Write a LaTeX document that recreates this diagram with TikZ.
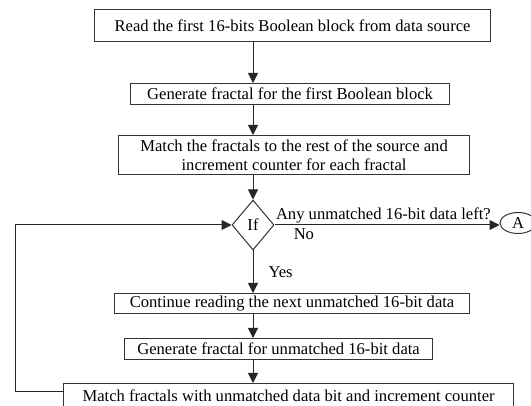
\documentclass[tikz,border=0pt]{standalone}
\usepackage{fontspec}
\setmainfont{Liberation Serif}
\usetikzlibrary{shapes.geometric,arrows.meta}
\begin{document}
\begin{tikzpicture}[x=1pt,y=-1pt,
  font=\fontsize{16.6}{19.5}\selectfont,
  stepbox/.style={draw=black!80,line width=1.1pt,inner sep=0pt,align=center,anchor=north west},
  arr/.style={draw=black!85,line width=1pt,-{Triangle[length=10pt,width=10pt]}},
  ln/.style={draw=black!85,line width=1pt}]
\useasboundingbox (0,0) rectangle (531,406);
\fill[white] (0,0) rectangle (531,406);
\node[stepbox,minimum width=396pt,minimum height=32pt] (b1) at (94,9) {Read the first 16-bits Boolean block from data source};
\node[stepbox,minimum width=319pt,minimum height=21pt] (b2) at (130,83) {Generate fractal for the first Boolean block};
\node[stepbox,minimum width=351pt,minimum height=39pt] (b3) at (118,135) {Match the fractals to the rest of the source and\\increment counter for each fractal};
\node[draw=black!80,line width=1pt,diamond,minimum width=42pt,minimum height=50pt,inner sep=0pt] (d) at (253,225) {If};
\node[draw=black!80,line width=1pt,ellipse,minimum width=36pt,minimum height=21pt,inner sep=0pt] (A) at (518,223) {A};
\node[stepbox,minimum width=355pt,minimum height=20pt] (b4) at (114,293) {Continue reading the next unmatched 16-bit data};
\node[stepbox,minimum width=308pt,minimum height=21pt] (b5) at (124,338) {Generate fractal for unmatched 16-bit data};
\node[stepbox,minimum width=450pt,minimum height=25pt,anchor=north west] (b6) at (63,383) {Match fractals with unmatched data bit and increment counter};
\coordinate (c1) at (15,392);
\coordinate (c2) at (15,225);
\draw[arr] (b1.south -| d.center) -- (b2.north -| d.center);
\draw[arr] (b2.south -| d.center) -- (b3.north -| d.center);
\draw[arr] (b3.south -| d.center) -- (d.north);
\draw[arr] (d.east) -- node[anchor=south west,inner sep=1pt,pos=0] {Any unmatched 16-bit data left?} node[anchor=north west,inner sep=3pt,pos=0.07] {No} (A.west |- d.east);
\draw[arr] (d.south) -- node[right,pos=0.5,inner sep=15pt] {Yes} (b4.north -| d.center);
\draw[arr] (b4.south -| d.center) -- (b5.north -| d.center);
\draw[arr] (b5.south -| d.center) -- (b6.north -| d.center);
\draw[ln] (b6.west |- c1) -- (c1) -- (c2);
\draw[arr] (c2) -- (d.west);
\end{tikzpicture}
\end{document}
